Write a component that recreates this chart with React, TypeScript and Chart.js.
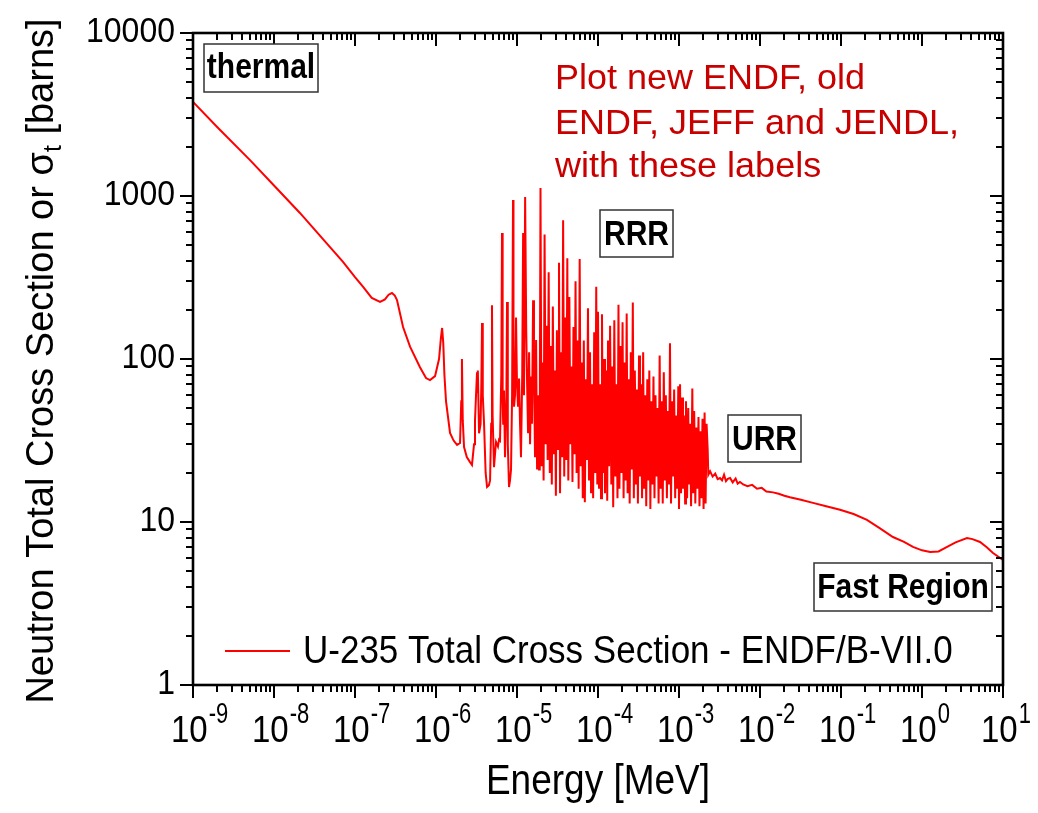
import React, { useEffect, useRef } from "react";
import { Chart, registerables } from "chart.js";

Chart.register(...registerables);

// ---------- DATA (energy in MeV, total cross section in barns) ----------
const thermalEnergy = [
  1e-9, 2e-9, 5.06e-9, 1e-8, 2.09e-8, 4e-8, 7.11e-8, 1.0e-7, 1.26e-7, 1.61e-7,
  2.04e-7, 2.34e-7, 2.6e-7, 2.86e-7, 3.1e-7, 3.3e-7, 3.92e-7, 4.78e-7, 6.34e-7, 7.53e-7,
  8.43e-7, 9.73e-7, 1.09e-6, 1.15e-6, 1.19e-6, 1.23e-6, 1.27e-6, 1.33e-6, 1.49e-6, 1.65e-6,
  1.82e-6, 1.98e-6, 2.05e-6, 2.09e-6, 2.14e-6, 2.22e-6, 2.4e-6, 2.63e-6, 2.78e-6,
];
const thermalSigma = [
  3780, 2640, 1660, 1160, 787, 546, 394, 318, 277, 237,
  224, 232, 248, 254, 245, 230, 157, 119, 89, 76.4,
  74.3, 78.5, 100, 135, 155, 125, 80, 55, 35.2, 31.6,
  29.7, 30.5, 55, 100, 42, 28.8, 25, 23.3, 22.4,
];

const sparseEnergy = [
  2.95e-6, 3.03e-6, 3.12e-6, 3.21e-6, 3.27e-6, 3.3e-6, 3.4e-6, 3.55e-6, 3.63e-6, 3.7e-6,
  3.78e-6, 3.92e-6, 4.1e-6, 4.27e-6, 4.5e-6, 4.65e-6, 4.8e-6, 4.91e-6, 5.0e-6, 5.2e-6,
  5.35e-6, 5.51e-6, 5.82e-6, 6.0e-6, 6.17e-6, 6.4e-6, 6.53e-6, 6.65e-6, 6.75e-6, 6.91e-6,
  7.11e-6, 7.4e-6, 7.53e-6, 7.7e-6, 7.97e-6, 8.2e-6, 8.44e-6, 8.7e-6, 8.93e-6, 9.05e-6,
  9.19e-6, 9.45e-6, 9.73e-6, 1.0e-5, 1.03e-5, 1.06e-5, 1.09e-5, 1.12e-5, 1.16e-5, 1.19e-5,
  1.22e-5, 1.26e-5, 1.3e-5, 1.33e-5, 1.37e-5, 1.41e-5, 1.45e-5, 1.49e-5, 1.53e-5, 1.58e-5,
  1.62e-5, 1.67e-5, 1.72e-5, 1.77e-5, 1.82e-5, 1.87e-5, 1.91e-5,
];
const sparseSigma = [
  30, 42, 60, 83, 62, 85, 35, 40, 70, 166,
  60, 40, 20, 16.4, 16.8, 18, 40, 214, 45, 21.7,
  26, 31, 29, 32, 31.5, 80, 593, 60, 40, 64,
  25, 60, 224, 30, 16.4, 18, 21, 60, 944, 120,
  51, 60, 180, 70, 51, 76, 40, 25, 80, 593,
  60, 986, 150, 74, 35, 110, 30, 78, 40, 229,
  82, 25, 131, 21, 60, 21, 40,
];

const denseEnergyA = [
  1.95e-5, 2.01e-5, 2.07e-5, 2.13e-5, 2.19e-5, 2.26e-5, 2.32e-5, 2.39e-5, 2.46e-5, 2.54e-5,
  2.61e-5, 2.69e-5, 2.77e-5, 2.85e-5, 2.94e-5, 3.02e-5, 3.11e-5, 3.21e-5, 3.3e-5, 3.4e-5,
  3.5e-5, 3.61e-5, 3.71e-5, 3.83e-5, 3.94e-5, 4.06e-5, 4.18e-5, 4.3e-5, 4.43e-5, 4.56e-5,
  4.7e-5, 4.84e-5, 4.98e-5, 5.13e-5, 5.28e-5, 5.44e-5, 5.6e-5, 5.77e-5, 5.94e-5, 6.12e-5,
  6.3e-5, 6.49e-5, 6.68e-5, 6.88e-5, 7.09e-5, 7.3e-5, 7.52e-5, 7.74e-5, 7.97e-5, 8.21e-5,
  8.46e-5, 8.71e-5, 8.97e-5, 9.24e-5, 9.51e-5, 9.8e-5,
];
const denseSigmaA = [
  1120, 22, 95, 18, 580, 30, 160, 24, 340, 20,
  120, 17, 210, 26, 85, 14.5, 150, 28, 390, 15,
  110, 25, 710, 19, 180, 24, 415, 18, 240, 30,
  90, 17.6, 157, 26, 300, 20, 130, 16, 410, 22,
  95, 14, 130, 13.2, 75, 24, 205, 18, 110, 15,
  70, 14, 146, 20, 277, 17,
];

const denseEnergyB = [
  1.0e-4, 1.03e-4, 1.06e-4, 1.09e-4, 1.12e-4, 1.15e-4, 1.19e-4, 1.22e-4, 1.26e-4, 1.3e-4,
  1.33e-4, 1.37e-4, 1.41e-4, 1.46e-4, 1.5e-4, 1.54e-4, 1.59e-4, 1.64e-4, 1.69e-4, 1.74e-4,
  1.79e-4, 1.84e-4, 1.89e-4, 1.95e-4, 2.01e-4, 2.07e-4, 2.13e-4, 2.19e-4, 2.26e-4, 2.32e-4,
  2.39e-4, 2.46e-4, 2.54e-4, 2.61e-4, 2.69e-4, 2.77e-4, 2.85e-4, 2.94e-4, 3.02e-4, 3.11e-4,
  3.21e-4, 3.3e-4, 3.4e-4, 3.5e-4, 3.61e-4, 3.71e-4, 3.83e-4, 3.94e-4, 4.06e-4, 4.18e-4,
  4.3e-4, 4.43e-4, 4.56e-4, 4.7e-4, 4.84e-4, 4.98e-4, 5.13e-4, 5.28e-4, 5.44e-4, 5.6e-4,
  5.77e-4, 5.94e-4, 6.12e-4, 6.3e-4, 6.49e-4, 6.68e-4, 6.88e-4, 7.09e-4, 7.3e-4, 7.52e-4,
  7.74e-4, 7.97e-4, 8.21e-4, 8.46e-4, 8.71e-4, 8.97e-4, 9.24e-4, 9.51e-4, 9.8e-4,
];
const denseSigmaB = [
  195, 16, 70, 14, 188, 20, 100, 15, 85, 13.5,
  130, 22, 160, 17, 90, 12.3, 173, 19, 70, 14,
  215, 16, 120, 20, 168, 14, 95, 18, 190, 15,
  75, 13, 110, 21, 222, 14, 85, 17, 65, 13,
  105, 19, 70, 14, 110, 16, 60, 12.5, 75, 18,
  85, 12, 55, 17, 78, 14, 60, 19, 50, 13,
  105, 16, 55, 13, 83, 18, 60, 14, 48, 17,
  125, 13, 55, 19, 65, 14, 45, 16, 68,
];

const denseEnergyC = [
  1.0e-3, 1.03e-3, 1.06e-3, 1.09e-3, 1.12e-3, 1.15e-3, 1.19e-3, 1.22e-3, 1.26e-3, 1.3e-3,
  1.33e-3, 1.37e-3, 1.41e-3, 1.46e-3, 1.5e-3, 1.54e-3, 1.59e-3, 1.64e-3, 1.69e-3, 1.74e-3,
  1.79e-3, 1.84e-3, 1.89e-3, 1.95e-3, 2.01e-3, 2.07e-3, 2.13e-3, 2.19e-3, 2.26e-3,
];
const denseSigmaC = [
  12, 70, 15, 58, 16, 45, 13, 55, 14, 50,
  17, 40, 12.5, 66, 15, 48, 13, 38, 16, 44,
  12.5, 36, 14, 43, 12, 47, 13, 40, 28,
];

const fastEnergy = [
  2.3e-3, 2.42e-3, 2.6e-3, 2.8e-3, 3.0e-3, 3.21e-3, 3.4e-3, 3.6e-3, 3.8e-3, 4.0e-3,
  4.27e-3, 4.6e-3, 5.0e-3, 5.3e-3, 5.66e-3, 6.2e-3, 7.0e-3, 8.0e-3, 9.19e-3, 1.05e-2,
  1.2e-2, 1.45e-2, 1.7e-2, 2.0e-2, 2.34e-2, 3.2e-2, 4.51e-2, 6.56e-2, 9.72e-2, 0.143,
  0.209, 0.3, 0.438, 0.6, 0.774, 1.0, 1.26, 1.6, 2.04, 2.6,
  3.59, 4.2, 5.2, 6.3, 7.53, 10,
];
const fastSigma = [
  19.5, 20.5, 19, 19.8, 18.3, 18.6, 18.0, 19.5, 17.8, 18.4,
  18.6, 17.5, 18.5, 17.2, 17.6, 17.0, 16.6, 16.9, 16.0, 16.2,
  15.4, 15.2, 14.9, 14.5, 14.2, 13.7, 13.1, 12.5, 11.9, 11.2,
  10.3, 9.18, 8.09, 7.56, 7.03, 6.7, 6.55, 6.6, 7.03, 7.5,
  7.98, 7.85, 7.54, 7.0, 6.45, 5.85,
];

const xTickExponents = [-9, -8, -7, -6, -5, -4, -3, -2, -1, 0, 1];
const yTickValues = [1, 10, 100, 1000, 10000];
const yTickLabels = ["1", "10", "100", "1000", "10000"];
const seriesLabel = "U-235 Total Cross Section - ENDF/B-VII.0";
const xTitle = "Energy [MeV]";
const yTitleMain = "Neutron Total Cross Section or σ";
const yTitleSub = "t";
const yTitleEnd = " [barns]";
const noteLines = ["Plot new ENDF, old", "ENDF, JEFF and JENDL,", "with these labels"];
const regionNames = ["thermal", "RRR", "URR", "Fast Region"];

const FONT = '"Liberation Sans", Arial, Helvetica, sans-serif';

function txt(
  ctx: CanvasRenderingContext2D,
  s: string,
  x: number,
  y: number,
  size: number,
  sy = 1,
  align: CanvasTextAlign = "left",
  weight = "normal",
  color = "#000"
) {
  ctx.save();
  ctx.translate(x, y);
  ctx.scale(1, sy);
  ctx.font = `${weight} ${size}px ${FONT}`;
  ctx.fillStyle = color;
  ctx.textAlign = align;
  ctx.textBaseline = "alphabetic";
  ctx.fillText(s, 0, 0);
  ctx.restore();
}

const decorPlugin = {
  id: "decor",
  afterDraw(chart: any) {
    const ctx: CanvasRenderingContext2D = chart.ctx;
    const { left, right, top, bottom } = chart.chartArea;
    const xs = chart.scales.x;
    const ys = chart.scales.y;
    ctx.save();

    // frame
    ctx.strokeStyle = "#000";
    ctx.lineWidth = 2.6;
    ctx.strokeRect(left, top, right - left, bottom - top);

    // ticks
    ctx.lineWidth = 2;
    ctx.beginPath();
    for (const e of xTickExponents) {
      for (let m = 1; m <= 9; m++) {
        const v = Number(`${m}e${e}`);
        if (v > 10.0001) continue;
        const px = Math.round(xs.getPixelForValue(v));
        const len = m === 1 ? 13 : 7;
        ctx.moveTo(px, bottom);
        ctx.lineTo(px, bottom + len);
        ctx.moveTo(px, top);
        ctx.lineTo(px, top + len);
      }
    }
    for (let e = 0; e <= 4; e++) {
      for (let m = 1; m <= 9; m++) {
        const v = Number(`${m}e${e}`);
        if (v > 10000.1) continue;
        const py = Math.round(ys.getPixelForValue(v));
        const len = m === 1 ? 13 : 7;
        ctx.moveTo(left - len, py);
        ctx.lineTo(left, py);
        ctx.moveTo(right - len, py);
        ctx.lineTo(right, py);
      }
    }
    ctx.stroke();

    // y tick labels
    yTickValues.forEach((v, i) => {
      const py = ys.getPixelForValue(v);
      txt(ctx, yTickLabels[i], 175, py + 9, 32, 1.1, "right");
    });

    // x tick labels 10^n
    for (const e of xTickExponents) {
      const px = xs.getPixelForValue(Number(`1e${e}`));
      ctx.font = `normal 33px ${FONT}`;
      const w10 = ctx.measureText("10").width;
      const start = px - 22;
      txt(ctx, "10", start, 742, 33, 1.13);
      txt(ctx, String(e), start + w10 + 1, 723, 22, 1.3);
    }

    // axis titles
    txt(ctx, xTitle, (left + right) / 2, 794, 37, 1.15, "center");

    ctx.save();
    ctx.translate(53, (top + bottom) / 2 + 2);
    ctx.rotate(-Math.PI / 2);
    ctx.font = `normal 38px ${FONT}`;
    const w1 = ctx.measureText(yTitleMain).width;
    const w3 = ctx.measureText(yTitleEnd).width;
    ctx.font = `normal 25px ${FONT}`;
    const ws = ctx.measureText(yTitleSub).width;
    const x0 = -(w1 + ws + w3) / 2;
    ctx.fillStyle = "#000";
    ctx.textBaseline = "alphabetic";
    ctx.font = `normal 38px ${FONT}`;
    ctx.fillText(yTitleMain, x0, 0);
    ctx.font = `normal 25px ${FONT}`;
    ctx.fillText(yTitleSub, x0 + w1, 8);
    ctx.font = `normal 38px ${FONT}`;
    ctx.fillText(yTitleEnd, x0 + w1 + ws, 0);
    ctx.restore();

    // legend
    ctx.strokeStyle = "#FF0000";
    ctx.lineWidth = 2;
    ctx.beginPath();
    ctx.moveTo(225, 651);
    ctx.lineTo(290, 651);
    ctx.stroke();
    txt(ctx, seriesLabel, 303, 663, 35, 1.12);

    // region labels in boxes
    const boxes = [
      { x: 204, y: 44, w: 114, h: 48, base: 78 },
      { x: 600, y: 210, w: 73, h: 47, base: 245 },
      { x: 728, y: 415, w: 73, h: 47, base: 450 },
      { x: 814, y: 563, w: 178, h: 48, base: 598 },
    ];
    boxes.forEach((b, i) => {
      ctx.fillStyle = "#fff";
      ctx.fillRect(b.x, b.y, b.w, b.h);
      ctx.strokeStyle = "#333";
      ctx.lineWidth = 1.5;
      ctx.strokeRect(b.x, b.y, b.w, b.h);
      txt(ctx, regionNames[i], b.x + b.w / 2, b.base, 30, 1.17, "center", "bold");
    });

    // red note
    const noteBase = [89, 134, 177];
    noteLines.forEach((l, i) => txt(ctx, l, 555, noteBase[i], 36, 0.95, "left", "normal", "#C80000"));

    ctx.restore();
  },
};

export default function App() {
  const canvasRef = useRef<HTMLCanvasElement | null>(null);

  useEffect(() => {
    if (!canvasRef.current) return;
    const energy = [
      ...thermalEnergy,
      ...sparseEnergy,
      ...denseEnergyA,
      ...denseEnergyB,
      ...denseEnergyC,
      ...fastEnergy,
    ];
    const sigma = [
      ...thermalSigma,
      ...sparseSigma,
      ...denseSigmaA,
      ...denseSigmaB,
      ...denseSigmaC,
      ...fastSigma,
    ];
    const points = energy.map((x, i) => ({ x, y: sigma[i] }));

    const chart = new Chart(canvasRef.current, {
      type: "scatter",
      data: {
        datasets: [
          {
            label: seriesLabel,
            data: points,
            showLine: true,
            borderColor: "#FF0000",
            backgroundColor: "#FF0000",
            borderWidth: 2,
            borderJoinStyle: "miter",
            pointRadius: 0,
            tension: 0,
          },
        ],
      },
      options: {
        animation: false,
        responsive: true,
        maintainAspectRatio: false,
        events: [],
        layout: { padding: { left: 0, right: 35, top: 33, bottom: 0 } },
        plugins: {
          legend: { display: false },
          tooltip: { enabled: false },
          title: { display: false },
        },
        scales: {
          x: {
            type: "logarithmic",
            min: 1e-9,
            max: 10,
            grid: { display: false },
            border: { display: false },
            ticks: { display: false },
            afterFit: (s: any) => {
              s.height = 128;
            },
          },
          y: {
            type: "logarithmic",
            min: 1,
            max: 10000,
            grid: { display: false },
            border: { display: false },
            ticks: { display: false },
            afterFit: (s: any) => {
              s.width = 193;
            },
          },
        },
      },
      plugins: [decorPlugin],
    } as any);

    return () => chart.destroy();
  }, []);

  return (
    <div style={{ position: "fixed", left: 0, top: 0, width: 1038, height: 813, background: "#fff" }}>
      <canvas ref={canvasRef} style={{ width: "100%", height: "100%" }} />
    </div>
  );
}
